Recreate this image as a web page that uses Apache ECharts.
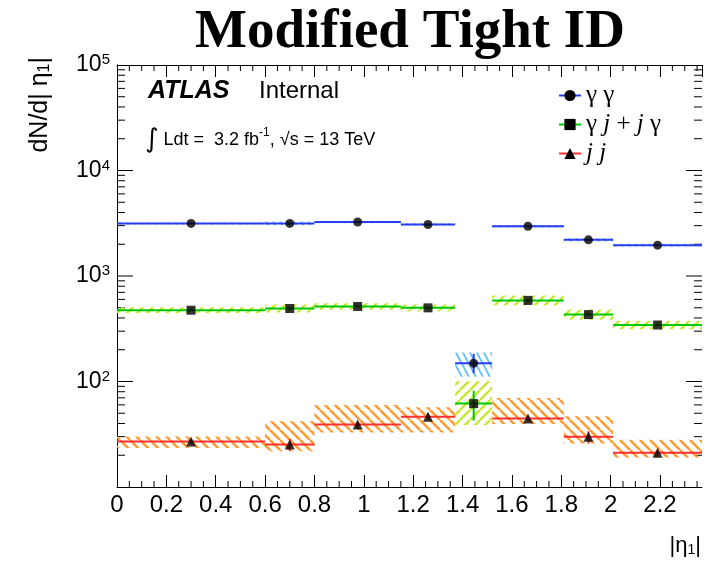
<!DOCTYPE html>
<html>
<head>
<meta charset="utf-8">
<script src="https://cdn.jsdelivr.net/npm/echarts@6/dist/echarts.min.js"></script>
<style>
  html, body { margin: 0; padding: 0; background: #fff; }
  #chart { width: 706px; height: 561px; }
</style>
</head>
<body>
<div id="chart"></div>
<script>
// bin edges in |eta_1|
var binLo = [0, 0.6, 0.8, 1.15, 1.37, 1.52, 1.81, 2.01];
var binHi = [0.6, 0.8, 1.15, 1.37, 1.52, 1.81, 2.01, 2.37];

// gamma gamma
var ggVal    = [3150, 3150, 3250, 3080, 149, 2960, 2200, 1960];
var ggErrLo  = [3120, 3100, 3220, 3040, 120, 2920, 2170, 1935];
var ggErrHi  = [3180, 3200, 3280, 3120, 183, 3000, 2230, 1985];
var ggBandLo = [3080, 3020, 3170, 2990, 111, 2880, 2120, 1900];
var ggBandHi = [3220, 3280, 3330, 3170, 188, 3040, 2280, 2020];

// gamma j + j gamma
var gjVal    = [474, 492, 514, 499, 61.7, 587, 431, 343];
var gjErrLo  = [468, 484, 507, 490, 42.6, 577, 423, 336];
var gjErrHi  = [480, 500, 521, 508, 82, 597, 439, 350];
var gjBandLo = [445, 450, 478, 462, 38.7, 527, 385, 313];
var gjBandHi = [505, 538, 552, 538, 100.6, 654, 483, 376];

// j j
var jjVal    = [27.0, 25.3, 39.2, 46.4, null, 44.5, 29.9, 21.1];
var jjErrLo  = [25.6, 22.0, 37.0, 43.2, null, 42.0, 25.8, 19.9];
var jjErrHi  = [28.5, 28.6, 41.6, 49.8, null, 47.2, 33.8, 22.4];
var jjBandLo = [23.4, 21.8, 32.9, 32.9, null, 39.5, 25.8, 19.0];
var jjBandHi = [30.1, 41.9, 60.0, 57.0, null, 69.9, 46.8, 28.1];

var xMin = 0, xMax = 2.37, yMin = 10, yMax = 100000;

// frame ticks on the log axis: [value, length]
var yTicks = [];
for (var e = 1; e < 5; e++) {
  for (var m = 1; m <= 9; m++) {
    if (m === 1 && e === 1) continue;
    yTicks.push([m * Math.pow(10, e), m === 1 ? 16 : 8]);
  }
}
var xMinor = [];
for (var k = 1; k * 0.05 < xMax; k++) {
  if (k % 4 !== 0) xMinor.push(+(k * 0.05).toFixed(2));
}

function hatch(color, w, h, dir, lw) {
  var c = document.createElement("canvas");
  c.width = w;
  c.height = h;
  var g = c.getContext("2d");
  g.strokeStyle = color;
  g.lineWidth = lw;
  g.beginPath();
  for (var i = -1; i <= 1; i++) {
    if (dir > 0) {
      g.moveTo(i * w, h);
      g.lineTo(i * w + w, 0);
    } else {
      g.moveTo(i * w, 0);
      g.lineTo(i * w + w, h);
    }
  }
  g.stroke();
  return { image: c, repeat: "repeat" };
}

function rows(val, eLo, eHi, bLo, bHi) {
  var out = [];
  for (var i = 0; i < val.length; i++) {
    if (val[i] == null) continue;
    out.push([binLo[i], binHi[i], val[i], eLo[i], eHi[i], bLo[i], bHi[i]]);
  }
  return out;
}

function centers(val) {
  var out = [];
  for (var i = 0; i < val.length; i++) {
    if (val[i] == null) continue;
    out.push([(binLo[i] + binHi[i]) / 2, val[i]]);
  }
  return out;
}

function histSeries(data, lineColor, pattern, z) {
  return {
    type: "custom",
    z: z,
    clip: true,
    data: data,
    encode: { x: [0, 1], y: [2, 3, 4, 5, 6] },
    renderItem: function (params, api) {
      var lo = api.value(0), hi = api.value(1), v = api.value(2);
      var mid = (lo + hi) / 2;
      var tl = api.coord([lo, api.value(6)]);
      var br = api.coord([hi, api.value(5)]);
      var pl = api.coord([lo, v]);
      var ph = api.coord([hi, v]);
      var et = api.coord([mid, api.value(4)]);
      var eb = api.coord([mid, api.value(3)]);
      return {
        type: "group",
        children: [
          {
            type: "rect",
            shape: { x: tl[0], y: tl[1], width: br[0] - tl[0], height: br[1] - tl[1] },
            style: { fill: pattern, stroke: null }
          },
          {
            type: "line",
            shape: { x1: pl[0], y1: pl[1], x2: ph[0], y2: ph[1] },
            style: { stroke: lineColor, lineWidth: 2 }
          },
          {
            type: "line",
            shape: { x1: et[0], y1: et[1], x2: eb[0], y2: eb[1] },
            style: { stroke: lineColor, lineWidth: 2 }
          }
        ]
      };
    }
  };
}

function markerSeries(data, symbol, size) {
  return {
    type: "scatter",
    z: 10,
    data: data,
    symbol: symbol,
    symbolSize: size,
    itemStyle: { color: "#000" },
    silent: true
  };
}

function legendSeries(name, color, symbol, size) {
  return {
    type: "line",
    name: name,
    data: [],
    symbol: symbol,
    symbolSize: size,
    lineStyle: { color: color, width: 2 },
    itemStyle: { color: "#000" }
  };
}

var blue = "#2a3cf0", green = "#00c800", red = "#ff3030";
var blueHatch = hatch("#66c6f4", 7, 13, -1, 2);
var greenHatch = hatch("#c8e830", 10, 10, 1, 2.4);
var redHatch = hatch("#ff9a30", 10, 10, -1, 2.5);

var chart = echarts.init(document.getElementById("chart"));

var frameTick = { show: true, inside: true, length: 12, lineStyle: { color: "#000", width: 1 } };

chart.setOption({
  animation: false,
  backgroundColor: "#fff",
  grid: { left: 117, right: 4, top: 65, bottom: 74 },
  xAxis: [
    {
      type: "value", min: xMin, max: xMax, interval: 0.2,
      axisLine: { lineStyle: { color: "#000", width: 1 } },
      axisTick: frameTick,
      splitLine: { show: false },
      axisLabel: {
        margin: 6, fontSize: 24, color: "#000", fontFamily: "Liberation Sans",
        showMaxLabel: false,
        formatter: function (v) {
          var r = Math.round(v * 10) / 10;
          if (Math.abs(v / 0.2 - Math.round(v / 0.2)) > 1e-6) return "";
          return String(r);
        }
      }
    },
    {
      type: "value", position: "top", min: xMin, max: xMax, interval: 0.2,
      axisLine: { lineStyle: { color: "#000", width: 1 } },
      axisTick: frameTick,
      splitLine: { show: false },
      axisLabel: { show: false }
    }
  ],
  yAxis: [
    {
      type: "log", logBase: 10, min: yMin, max: yMax,
      axisLine: { show: true, lineStyle: { color: "#000", width: 1 } },
      axisTick: { show: false },
      splitLine: { show: false },
      minorTick: { show: false },
      axisLabel: {
        margin: 7, color: "#000", fontFamily: "Liberation Sans", fontSize: 23,
        formatter: function (v) {
          var p = Math.round(Math.log10(v));
          if (p <= 1) return "";
          return "10{sup|" + p + "}";
        },
        rich: {
          sup: { fontSize: 15, verticalAlign: "top", fontFamily: "Liberation Sans", color: "#000", padding: [0, 0, 10, 0] }
        }
      }
    },
    {
      type: "log", logBase: 10, min: yMin, max: yMax, position: "right",
      axisLine: { show: true, lineStyle: { color: "#000", width: 1 } },
      axisTick: { show: false },
      splitLine: { show: false },
      axisLabel: { show: false }
    }
  ],
  legend: {
    data: ["γ γ", "γ j + j γ", "j j"],
    orient: "vertical",
    left: 553,
    top: 78,
    itemWidth: 22,
    itemHeight: 14,
    itemGap: 4,
    textStyle: {
      fontFamily: "Liberation Serif", fontSize: 25, color: "#000",
      rich: { i: { fontFamily: "Liberation Serif", fontStyle: "italic", fontSize: 25 } }
    },
    formatter: function (name) {
      if (name === "γ j + j γ") return "γ {i|j} + {i|j} γ";
      if (name === "j j") return "{i|j j}";
      return name;
    }
  },
  graphic: [
    {
      type: "text", x: 410, y: 33,
      style: {
        text: "Modified Tight ID", fill: "#000", align: "center", verticalAlign: "middle",
        font: "bold 55px 'Liberation Serif'"
      }
    },
    {
      type: "text", x: 148, y: 91,
      style: { text: "ATLAS", fill: "#000", verticalAlign: "middle", font: "italic bold 25px 'Liberation Sans'" }
    },
    {
      type: "text", x: 259, y: 91,
      style: { text: "Internal", fill: "#000", verticalAlign: "middle", font: "24px 'Liberation Sans'" }
    },
    {
      type: "text", x: 145, y: 140,
      style: {
        text: "{int|∫} Ldt =  3.2 fb{sup|-1}, √s = 13 TeV", fill: "#000", verticalAlign: "middle",
        fontFamily: "Liberation Sans", fontSize: 18,
        rich: {
          int: { fontSize: 26, fontFamily: "DejaVu Sans" },
          sup: { fontSize: 12, verticalAlign: "top", padding: [0, 0, 8, 0] }
        }
      }
    },
    {
      type: "text", x: 40, y: 57, rotation: Math.PI / 2,
      style: {
        text: "dN/d| η{sub|1}|", fill: "#000", align: "right", verticalAlign: "middle",
        fontFamily: "Liberation Sans", fontSize: 25,
        rich: { sub: { fontSize: 16, verticalAlign: "bottom", padding: [8, 0, 0, 0] } }
      }
    },
    {
      type: "text", x: 701, y: 546,
      style: {
        text: "|η{sub|1}|", fill: "#000", align: "right", verticalAlign: "middle",
        fontFamily: "Liberation Sans", fontSize: 22,
        rich: { sub: { fontSize: 14, verticalAlign: "bottom", padding: [8, 0, 0, 0] } }
      }
    }
  ],
  series: [
    legendSeries("γ γ", blue, "circle", 9),
    legendSeries("γ j + j γ", green, "rect", 9),
    legendSeries("j j", red, "triangle", 9),
    histSeries(rows(jjVal, jjErrLo, jjErrHi, jjBandLo, jjBandHi), red, redHatch, 3),
    histSeries(rows(gjVal, gjErrLo, gjErrHi, gjBandLo, gjBandHi), green, greenHatch, 4),
    histSeries(rows(ggVal, ggErrLo, ggErrHi, ggBandLo, ggBandHi), blue, blueHatch, 5),
    markerSeries(centers(ggVal), "circle", 9),
    markerSeries(centers(gjVal), "rect", 9),
    markerSeries(centers(jjVal), "triangle", 10),
    {
      // ticks on the log axes, left and right frame
      type: "custom",
      z: 2,
      silent: true,
      clip: false,
      data: yTicks.map(function (t) { return [xMin, t[0], t[1]]; }),
      renderItem: function (params, api) {
        var v = api.value(1), len = api.value(2);
        var l = api.coord([xMin, v]);
        var r = api.coord([xMax, v]);
        return {
          type: "group",
          children: [
            { type: "line", shape: { x1: l[0], y1: l[1], x2: l[0] + len, y2: l[1] }, style: { stroke: "#000", lineWidth: 1 } },
            { type: "line", shape: { x1: r[0], y1: r[1], x2: r[0] - len, y2: r[1] }, style: { stroke: "#000", lineWidth: 1 } }
          ]
        };
      }
    },
    {
      // minor ticks on bottom and top frame
      type: "custom",
      z: 2,
      silent: true,
      clip: false,
      data: xMinor.map(function (v) { return [v, yMin]; }),
      renderItem: function (params, api) {
        var v = api.value(0);
        var b = api.coord([v, yMin]);
        var t = api.coord([v, yMax]);
        return {
          type: "group",
          children: [
            { type: "line", shape: { x1: b[0], y1: b[1], x2: b[0], y2: b[1] - 6 }, style: { stroke: "#000", lineWidth: 1 } },
            { type: "line", shape: { x1: t[0], y1: t[1], x2: t[0], y2: t[1] + 6 }, style: { stroke: "#000", lineWidth: 1 } }
          ]
        };
      }
    }
  ]
});
</script>
</body>
</html>
